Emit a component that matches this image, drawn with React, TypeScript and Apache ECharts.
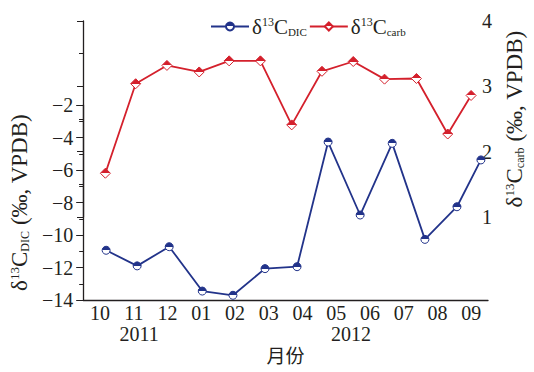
import React, { useEffect, useRef } from 'react';
import * as echarts from 'echarts';

const months = ['10', '11', '12', '01', '02', '03', '04', '05', '06', '07', '08', '09'];
// sampling positions in month units from the start of Oct 2011
const samplePos = [0.68, 1.6, 2.55, 3.53, 4.44, 5.39, 6.34, 7.26, 8.21, 9.16, 10.13, 11.08, 11.79];
const dicValues = [-10.94, -11.9, -10.72, -13.45, -13.71, -12.07, -11.95, -4.28, -8.77, -4.36, -10.27, -8.26, -5.38];
const carbValues = [1.67, 3.04, 3.32, 3.22, 3.39, 3.39, 2.41, 3.23, 3.38, 3.11, 3.12, 2.27, 2.86];
const yearLabels = ['2011', '2012'];

const BLUE = '#22338a';
const RED = '#d4202c';
const INK = '#231f20';
const SERIF = '"Liberation Serif", "DejaVu Serif", serif';
const FS = 20;

const makeRich = (big: number, sup: number, sub: number) => ({
  d: { fontFamily: SERIF, fontSize: big, color: INK },
  sup: { fontFamily: SERIF, fontSize: sup, color: INK, verticalAlign: 'top' },
  c: { fontFamily: SERIF, fontSize: big, color: INK },
  sub: { fontFamily: SERIF, fontSize: sub, color: INK, verticalAlign: 'bottom' },
  t: { fontFamily: SERIF, fontSize: big, color: INK },
});
const titleRich = makeRich(23, 13, 12);
const legendRich = makeRich(21, 12, 11);

const halfFill = (col: string) =>
  new echarts.graphic.LinearGradient(0, 0, 0, 1, [
    { offset: 0, color: col },
    { offset: 0.5, color: col },
    { offset: 0.5, color: '#ffffff' },
    { offset: 1, color: '#ffffff' },
  ]);

export default function App() {
  const ref = useRef<HTMLDivElement>(null);
  useEffect(() => {
    if (!ref.current) return;
    const chart = echarts.init(ref.current, undefined, { renderer: 'svg' });
    const minus = (v: number) => (v < 0 ? '\u2212' + Math.abs(v) : String(v));
    chart.setOption({
      animation: false,
      backgroundColor: '#ffffff',
      legend: {
        left: 205,
        top: 11,
        itemWidth: 38,
        itemHeight: 10,
        itemGap: 2,
        data: ['dic', 'carb'],
        formatter: (n: string) =>
          n === 'dic' ? '{d|δ}{sup|13}{c|C}{sub|DIC}' : '{d|δ}{sup|13}{c|C}{sub|carb}',
        textStyle: { rich: legendRich, padding: [0, 0, 0, -2] },
      },
      grid: [
        { left: 83, right: 46, top: 105, bottom: 72 },
        { left: 83, right: 46, top: 21, bottom: 155 },
      ],
      xAxis: [
        {
          type: 'category',
          gridIndex: 0,
          data: months,
          boundaryGap: true,
          axisLine: { lineStyle: { color: INK, width: 1.3 } },
          axisTick: { length: 5, interval: 0, lineStyle: { color: INK } },
          axisLabel: { interval: 0, fontFamily: SERIF, fontSize: FS, color: INK, margin: 3 },
          splitLine: { show: false },
          name: '月份',
          nameLocation: 'middle',
          nameGap: 45,
          nameTextStyle: { fontFamily: '"Noto Sans CJK SC"', fontSize: 19, color: INK },
        },
        { type: 'value', gridIndex: 0, min: 0, max: 12, show: false },
        { type: 'value', gridIndex: 1, min: 0, max: 12, show: false },
      ],
      yAxis: [
        {
          type: 'value',
          gridIndex: 0,
          position: 'left',
          min: -14,
          max: -2,
          interval: 2,
          axisLine: { show: true, lineStyle: { color: INK, width: 1.3 } },
          axisTick: { show: true, length: 7, lineStyle: { color: INK } },
          minorTick: { show: true, splitNumber: 2, length: 4, lineStyle: { color: INK } },
          splitLine: { show: false },
          axisLabel: { formatter: minus, fontFamily: SERIF, fontSize: FS, color: INK, margin: 10 },
          name: '{d|δ}{sup|13}{c|C}{sub|DIC}{t| (‰, VPDB)}',
          nameLocation: 'middle',
          nameRotate: 90,
          nameGap: 52,
          nameTextStyle: { rich: titleRich },
        },
        {
          type: 'value',
          gridIndex: 1,
          position: 'right',
          min: 1,
          max: 4,
          interval: 1,
          axisLine: { show: true, lineStyle: { color: INK, width: 1.3 } },
          axisTick: { show: true, inside: true, length: 6, lineStyle: { color: INK } },
          minorTick: { show: true, splitNumber: 2, length: 4, lineStyle: { color: INK } },
          splitLine: { show: false },
          axisLabel: { fontFamily: SERIF, fontSize: FS, color: INK, margin: 4 },
          name: '{d|δ}{sup|13}{c|C}{sub|carb}{t| (‰, VPDB)}',
          nameLocation: 'middle',
          nameRotate: 90,
          nameGap: 25,
          nameTextStyle: { rich: titleRich },
        },
      ],
      graphic: [
        { type: 'text', x: 139, y: 334, style: { text: yearLabels[0], font: `${FS}px ${SERIF}`, fill: INK, align: 'center', verticalAlign: 'middle' } },
        { type: 'text', x: 351, y: 334, style: { text: yearLabels[1], font: `${FS}px ${SERIF}`, fill: INK, align: 'center', verticalAlign: 'middle' } },
      ],
      series: [
        {
          name: 'dic',
          type: 'line',
          xAxisIndex: 1,
          yAxisIndex: 0,
          data: samplePos.map((x, i) => [x, dicValues[i]]),
          symbol: 'circle',
          symbolSize: 8,
          showAllSymbol: true,
          lineStyle: { color: BLUE, width: 1.8 },
          itemStyle: { color: halfFill(BLUE), borderColor: BLUE, borderWidth: 1 },
          clip: false,
        },
        {
          name: 'carb',
          type: 'line',
          xAxisIndex: 2,
          yAxisIndex: 1,
          data: samplePos.map((x, i) => [x, carbValues[i]]),
          symbol: 'diamond',
          symbolSize: [10, 10],
          showAllSymbol: true,
          lineStyle: { color: RED, width: 1.8 },
          itemStyle: { color: halfFill(RED), borderColor: RED, borderWidth: 1 },
          clip: false,
        },
      ],
    });
    return () => chart.dispose();
  }, []);
  return (
    <div
      ref={ref}
      style={{ position: 'fixed', left: 0, top: 0, width: 534, height: 372, background: '#fff' }}
    />
  );
}
